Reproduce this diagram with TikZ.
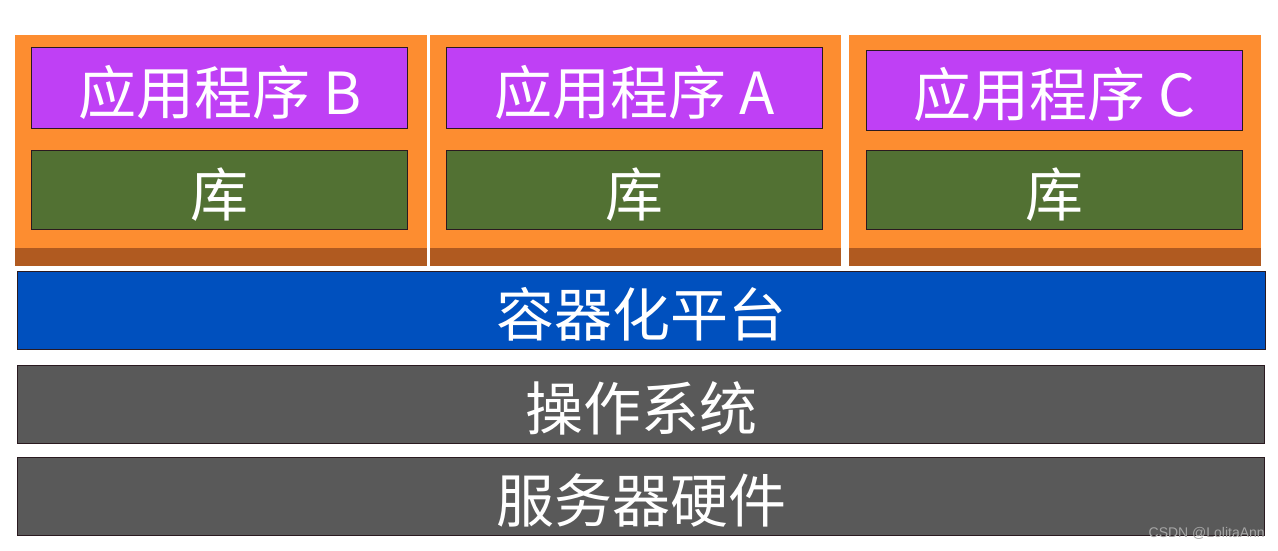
\documentclass[tikz,border=0pt]{standalone}
\usepackage{fontspec}
\setmainfont{Noto Sans CJK SC}
\newfontfamily\wmfont{Liberation Sans}
\definecolor{orng}{HTML}{FD8D30}
\definecolor{brwn}{HTML}{B05A20}
\definecolor{purp}{HTML}{BF40F5}
\definecolor{grn}{HTML}{527133}
\definecolor{blu}{HTML}{0050BE}
\definecolor{gry}{HTML}{595959}
\definecolor{edge}{HTML}{2A1A20}
\tikzset{
  lbl/.style={text=white, font=\fontsize{58}{64}\selectfont, inner sep=0pt, yshift=-4pt},
  boxst/.style={draw=edge, line width=1.4pt, inner sep=0pt, anchor=north west},
}
\begin{document}
\begin{tikzpicture}[x=1pt,y=-1pt]
\useasboundingbox (0,0) rectangle (1278,550);
\fill[white] (0,0) rectangle (1278,550);
% containers
\foreach \xa/\xb/\nm in {15/427/B, 430/841/A, 849/1261/C}{
  \fill[orng] (\xa,35) rectangle (\xb,266);
  \fill[brwn] (\xa,248) rectangle (\xb,266);
}
% app boxes
\node[boxst, fill=purp, minimum width=376pt, minimum height=81pt] (appB) at (31,47) {};
\node[boxst, fill=purp, minimum width=376pt, minimum height=81pt] (appA) at (446,47) {};
\node[boxst, fill=purp, minimum width=376pt, minimum height=80pt] (appC) at (866,50) {};
\node[lbl] at (appB.center) {应用程序 B};
\node[lbl] at (appA.center) {应用程序 A};
\node[lbl] at (appC.center) {应用程序 C};
% libs
\node[boxst, fill=grn, minimum width=376pt, minimum height=79pt] (libB) at (31,150) {};
\node[boxst, fill=grn, minimum width=376pt, minimum height=79pt] (libA) at (446,150) {};
\node[boxst, fill=grn, minimum width=376pt, minimum height=79pt] (libC) at (866,150) {};
\node[lbl] at (libB.center) {库};
\node[lbl] at (libA.center) {库};
\node[lbl] at (libC.center) {库};
% layers
\node[boxst, fill=blu, minimum width=1248pt, minimum height=78pt] (plat) at (17,271) {};
\node[lbl] at (plat.center) {容器化平台};
\node[boxst, fill=gry, minimum width=1247pt, minimum height=78pt] (os) at (17,365) {};
\node[lbl] at (os.center) {操作系统};
\node[boxst, fill=gry, minimum width=1247pt, minimum height=78pt] (hw) at (17,457) {};
\node[lbl] at (hw.center) {服务器硬件};
% watermark
\node[anchor=east, inner sep=0pt, text=gray!70, font=\wmfont\fontsize{14}{16}\selectfont] (wm) at (1265,533) {CSDN @LolitaAnn};
\end{tikzpicture}
\end{document}
